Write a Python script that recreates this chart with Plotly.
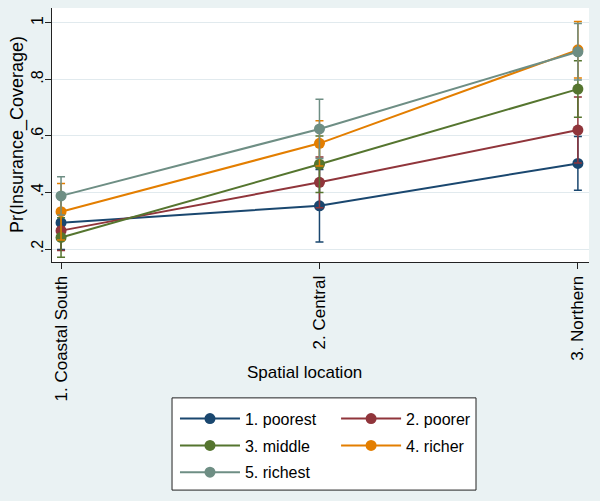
import plotly.graph_objects as go

# categories on the x axis
locations = [1, 2, 3]
location_labels = ["1. Coastal South", "2. Central", "3. Northern"]

# predicted margins per wealth group
groups = ["1. poorest", "2. poorer", "3. middle", "4. richer", "5. richest"]
poorest = [0.293, 0.353, 0.503]
poorer = [0.265, 0.436, 0.621]
middle = [0.241, 0.500, 0.766]
richer = [0.332, 0.574, 0.905]
richest = [0.388, 0.625, 0.898]

# half-widths of the 95% CIs
poorest_ci = [0.095, 0.128, 0.095]
poorer_ci = [0.070, 0.090, 0.117]
middle_ci = [0.070, 0.100, 0.100]
richer_ci = [0.100, 0.080, 0.100]
richest_ci = [0.068, 0.105, 0.100]

y_ticks = [0.2, 0.4, 0.6, 0.8, 1.0]
y_ticktext = [".2", ".4", ".6", ".8", "1"]

colors = ["#1a476f", "#90353b", "#55752f", "#e37e00", "#6e8e84"]
series = [poorest, poorer, middle, richer, richest]
cis = [poorest_ci, poorer_ci, middle_ci, richer_ci, richest_ci]
legend_ref = ["legend", "legend2", "legend", "legend2", "legend"]

FONT = "Liberation Sans, Arial, sans-serif"
BG = "#eaf2f3"

fig = go.Figure()
for name, y, ci, col, lg in zip(groups, series, cis, colors, legend_ref):
    fig.add_trace(
        go.Scatter(
            x=locations,
            y=y,
            name=name,
            legendgroup=name,
            mode="lines+markers",
            line=dict(color=col, width=2),
            marker=dict(color=col, size=11),
            error_y=dict(type="data", array=ci, color=col, thickness=1.5, width=4),
            legend=lg,
        )
    )

# outer box around the two legend columns
fig.add_shape(
    type="rect", xref="paper", yref="paper",
    x0=0.2235, x1=0.7896, y0=-0.898, y1=-0.535,
    line=dict(color="#222", width=1), fillcolor="white", layer="above",
)

fig.add_annotation(
    text="Spatial location", xref="paper", yref="paper",
    x=0.47, y=-0.48, showarrow=False,
    font=dict(family=FONT, size=17, color="black"),
)
fig.add_annotation(
    text="Pr(Insurance_Coverage)", xref="paper", yref="paper",
    x=-0.065, y=0.5, textangle=-90, showarrow=False,
    xanchor="center", yanchor="middle",
    font=dict(family=FONT, size=18, color="black"),
)

legend_style = dict(
    orientation="v", xanchor="left", yanchor="top",
    bgcolor="rgba(0,0,0,0)", borderwidth=0,
    font=dict(family=FONT, size=16, color="black"),
    tracegroupgap=3, itemwidth=60,
)

fig.update_layout(
    width=600,
    height=501,
    margin=dict(l=52, r=11, t=8, b=239, autoexpand=False),
    paper_bgcolor=BG,
    plot_bgcolor="white",
    font=dict(family=FONT, color="black"),
    legend=dict(x=0.229, y=-0.55, **legend_style),
    legend2=dict(x=0.529, y=-0.55, **legend_style),
    xaxis=dict(
        range=[0.965, 3.043],
        tickvals=locations,
        ticktext=location_labels,
        tickangle=-90,
        ticks="outside", ticklen=6, tickcolor="#222",
        showline=True, linecolor="#222", linewidth=1,
        showgrid=False, zeroline=False, automargin=False,
        tickfont=dict(family=FONT, size=17),
    ),
    yaxis=dict(
        range=[0.154, 1.053],
        tickvals=y_ticks,
        ticktext=y_ticktext,
        tickangle=-90,
        ticks="outside", ticklen=6, tickcolor="#222",
        ticklabelstandoff=-4,
        showline=True, linecolor="#222", linewidth=1,
        showgrid=True, gridcolor="#e1eaee", gridwidth=1,
        zeroline=False, automargin=False,
        tickfont=dict(family=FONT, size=16),
    ),
)

fig.write_html(
    "out.html",
    config={"displayModeBar": False},
    post_script="document.body.style.margin='0';",
)
